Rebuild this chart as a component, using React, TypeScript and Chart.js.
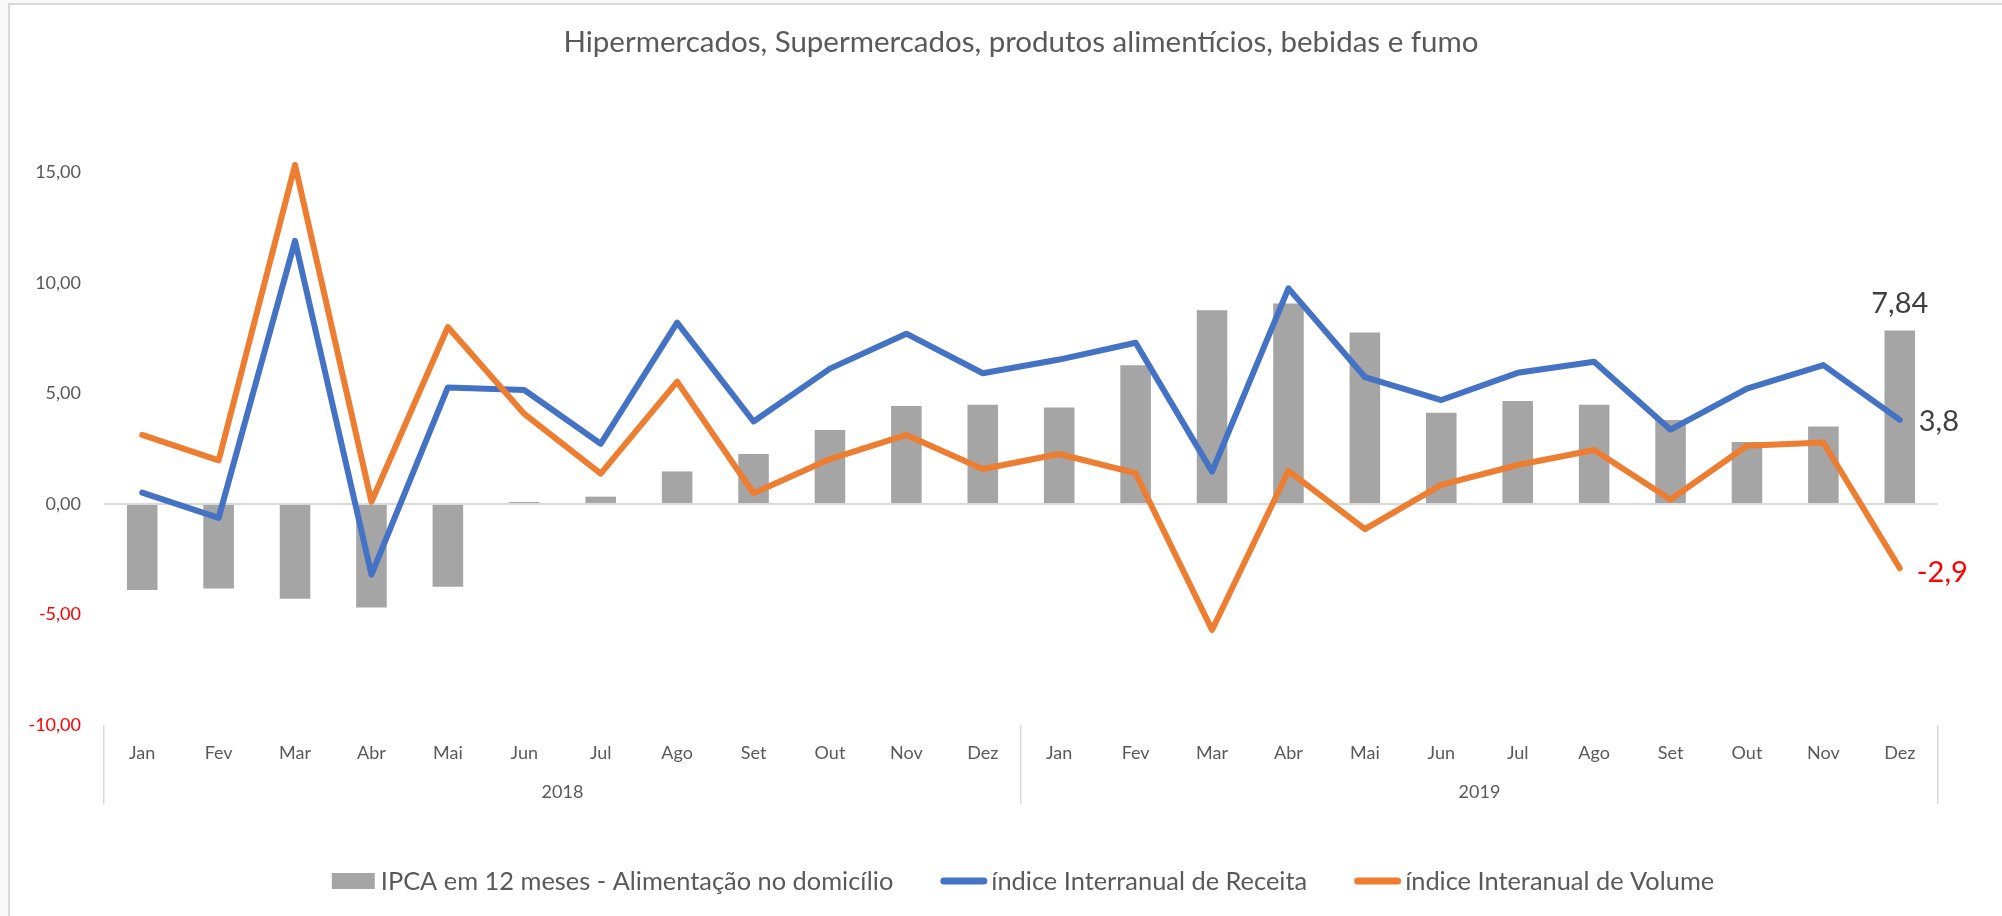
import { useEffect, useRef } from 'react';
import { Chart, registerables } from 'chart.js';

Chart.register(...registerables);

const FONT = 'Lato, "Open Sans", sans-serif';

const chartTitle = 'Hipermercados, Supermercados, produtos alimentícios, bebidas e fumo';
const months = ['Jan', 'Fev', 'Mar', 'Abr', 'Mai', 'Jun', 'Jul', 'Ago', 'Set', 'Out', 'Nov', 'Dez'];
const categories = [...months, ...months];
const years = ['2018', '2019'];

const seriesNames = [
  'IPCA em 12 meses - Alimentação no domicílio',
  'índice Interranual de Receita',
  'índice Interanual de Volume',
];
const seriesColors = ['#A5A5A5', '#4472C4', '#ED7D31'];

const ipca = [-3.89, -3.83, -4.29, -4.68, -3.75, 0.09, 0.33, 1.47, 2.26, 3.34, 4.43, 4.49,
  4.36, 6.27, 8.76, 9.07, 7.76, 4.12, 4.66, 4.49, 3.8, 2.8, 3.5, 7.84];
const receita = [0.51, -0.63, 11.9, -3.2, 5.27, 5.15, 2.72, 8.2, 3.73, 6.12, 7.7, 5.91,
  6.53, 7.29, 1.46, 9.75, 5.74, 4.7, 5.93, 6.43, 3.36, 5.22, 6.28, 3.8];
const volume = [3.12, 1.97, 15.33, 0.1, 8.0, 4.07, 1.37, 5.53, 0.48, 2.03, 3.12, 1.58,
  2.26, 1.39, -5.7, 1.5, -1.14, 0.86, 1.76, 2.44, 0.2, 2.63, 2.78, -2.91];

const yTicks = [-10, -5, 0, 5, 10, 15];

function fmt(v: number, d: number) {
  return v.toFixed(d).replace('.', ',');
}

export default function App() {
  const ref = useRef<HTMLCanvasElement | null>(null);

  useEffect(() => {
    if (!ref.current) return;

    const lastLabels = {
      id: 'lastLabels',
      afterDatasetsDraw(chart: any) {
        const ctx = chart.ctx;
        const n = categories.length - 1;
        ctx.save();
        ctx.font = `29px ${FONT}`;
        ctx.textBaseline = 'middle';
        const bar = chart.getDatasetMeta(0).data[n];
        ctx.fillStyle = '#404040';
        ctx.textAlign = 'center';
        ctx.fillText(fmt(ipca[n], 2), bar.x, bar.y - 27);
        const p1 = chart.getDatasetMeta(1).data[n];
        ctx.textAlign = 'left';
        ctx.fillText(fmt(receita[n], 1), p1.x + 19, p1.y + 2);
        const p2 = chart.getDatasetMeta(2).data[n];
        ctx.fillStyle = '#FF0000';
        ctx.fillText(fmt(volume[n], 1), p2.x + 17, p2.y + 4);
        ctx.restore();
      },
    };

    const customLegend = {
      id: 'customLegend',
      afterDraw(chart: any) {
        const ctx = chart.ctx;
        ctx.save();
        ctx.font = `25.4px ${FONT}`;
        ctx.textBaseline = 'middle';
        ctx.textAlign = 'left';
        const keyW = [43, 47, 47];
        const keyGap = [6, 4, 4];
        const itemGap = 47;
        const widths = seriesNames.map((t, i) => keyW[i] + keyGap[i] + ctx.measureText(t).width);
        const total = widths.reduce((a, b) => a + b, 0) + itemGap * (seriesNames.length - 1);
        const cy = 881;
        let x = 1023 - total / 2;
        seriesNames.forEach((name, i) => {
          if (i === 0) {
            ctx.fillStyle = seriesColors[0];
            ctx.fillRect(x, cy - 8, keyW[0], 16);
          } else {
            ctx.strokeStyle = seriesColors[i];
            ctx.lineWidth = 7;
            ctx.lineCap = 'round';
            ctx.beginPath();
            ctx.moveTo(x + 3.5, cy);
            ctx.lineTo(x + keyW[i] - 3.5, cy);
            ctx.stroke();
          }
          ctx.fillStyle = '#595959';
          ctx.fillText(name, x + keyW[i] + keyGap[i], cy + 1);
          x += widths[i] + itemGap;
        });
        ctx.restore();
      },
    };

    const sepColor = (ctx: any) =>
      ctx.index === undefined || ctx.index === 0 || ctx.index === 12 ? '#D9D9D9' : 'rgba(0,0,0,0)';

    const chart = new Chart(ref.current, {
      type: 'bar',
      data: {
        labels: categories,
        datasets: [
          {
            type: 'bar',
            label: seriesNames[0],
            data: ipca,
            backgroundColor: seriesColors[0],
            borderWidth: 0,
            categoryPercentage: 0.4,
            barPercentage: 1,
            order: 3,
            xAxisID: 'x',
          },
          {
            type: 'line',
            label: seriesNames[1],
            data: receita,
            borderColor: seriesColors[1],
            backgroundColor: seriesColors[1],
            borderWidth: 6,
            pointRadius: 0,
            tension: 0,
            borderJoinStyle: 'round',
            borderCapStyle: 'round',
            order: 2,
            xAxisID: 'x',
          },
          {
            type: 'line',
            label: seriesNames[2],
            data: volume,
            borderColor: seriesColors[2],
            backgroundColor: seriesColors[2],
            borderWidth: 6,
            pointRadius: 0,
            tension: 0,
            borderJoinStyle: 'round',
            borderCapStyle: 'round',
            order: 1,
            xAxisID: 'x',
          },
        ] as any,
      },
      options: {
        responsive: false,
        animation: false,
        devicePixelRatio: 1,
        layout: { padding: { left: 0, right: 64, top: 0, bottom: 0 } },
        plugins: {
          tooltip: { enabled: false },
          legend: { display: false },
          title: {
            display: true,
            fullSize: false,
            text: chartTitle,
            color: '#595959',
            font: { family: FONT, size: 29.5, weight: 'normal' },
            padding: { top: 24.3, bottom: 46.3 },
          },
        },
        scales: {
          x: {
            type: 'category',
            position: 'bottom',
            weight: 0,
            offset: true,
            border: { display: false },
            grid: {
              display: true,
              offset: true,
              drawOnChartArea: false,
              drawTicks: true,
              tickLength: 79,
              lineWidth: 1.5,
              tickWidth: 1.5,
              color: sepColor,
              tickColor: sepColor,
            },
            ticks: {
              color: '#595959',
              font: { family: FONT, size: 18 },
              padding: -62,
              maxRotation: 0,
              autoSkip: false,
            },
            afterFit: (s: any) => {
              s.height = 40;
            },
          },
          x2: {
            type: 'category',
            position: 'bottom',
            weight: 1,
            labels: years,
            offset: true,
            border: { display: false },
            grid: { display: false, drawTicks: false },
            ticks: {
              color: '#595959',
              font: { family: FONT, size: 18 },
              padding: 16,
              maxRotation: 0,
            },
            afterFit: (s: any) => {
              s.height = 151;
            },
          },
          y: {
            min: -10,
            max: 18,
            border: { display: false },
            grid: {
              drawTicks: false,
              lineWidth: 2,
              color: (ctx: any) => (ctx.tick && ctx.tick.value === 0 ? '#D9D9D9' : 'rgba(0,0,0,0)'),
            },
            afterBuildTicks: (s: any) => {
              s.ticks = yTicks.map((v) => ({ value: v }));
            },
            ticks: {
              padding: 23,
              font: { family: FONT, size: 18 },
              color: (ctx: any) => (ctx.tick && ctx.tick.value < 0 ? '#FF0000' : '#595959'),
              callback: (v: any) => fmt(Number(v), 2),
            },
            afterFit: (s: any) => {
              s.width = 104;
            },
          },
        },
      } as any,
      plugins: [lastLabels, customLegend],
    });

    return () => chart.destroy();
  }, []);

  return (
    <div style={{ position: 'absolute', left: 0, top: 0, width: 2002, height: 916, background: '#F8F8F8', overflow: 'hidden' }}>
      <div
        style={{
          position: 'absolute',
          left: 8,
          top: 3,
          right: 0,
          bottom: 0,
          background: '#FFFFFF',
          borderLeft: '2px solid #D9D9D9',
          borderTop: '2px solid #D9D9D9',
        }}
      />
      <canvas ref={ref} width={2002} height={916} style={{ position: 'absolute', left: 0, top: 0 }} />
    </div>
  );
}
